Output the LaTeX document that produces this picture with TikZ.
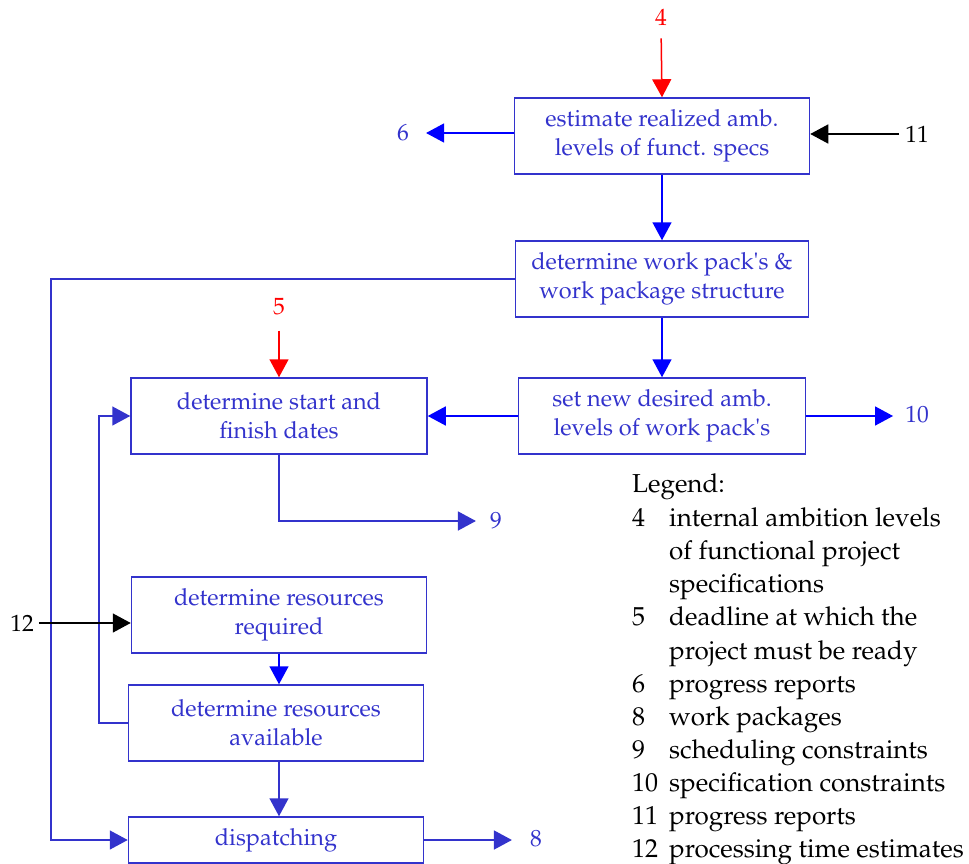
\documentclass[tikz,border=0pt]{standalone}
\usepackage[T1]{fontenc}
\usepackage{mathpazo}
\usetikzlibrary{arrows.meta}
\definecolor{dblue}{RGB}{51,51,204}
\definecolor{pblue}{RGB}{0,0,255}
\definecolor{pred}{RGB}{255,0,0}
\newcommand{\boxfont}{\fontsize{23.5}{29}\selectfont}
\newcommand{\legfont}{\fontsize{26}{33}\selectfont}
\begin{document}
\begin{tikzpicture}[x=1pt,y=-1pt,
  box/.style={draw=dblue,text=dblue,line width=1.5pt,align=center,inner sep=0pt,font=\boxfont},
  lbl/.style={inner sep=0pt,font=\boxfont},
  leg/.style={inner sep=0pt,anchor=base west,font=\legfont},
  conn/.style={line width=1.5pt,-{Triangle[length=18pt,width=19pt]}},
  flowb/.style={conn,pblue},
  flowd/.style={conn,dblue},
  flowr/.style={conn,pred},
  flowk/.style={conn,black}]
\useasboundingbox (0,0) rectangle (969,864);

% process boxes
\node[box,minimum width=295pt,minimum height=76pt] (A) at (662,136) {estimate realized amb.\\levels of funct. specs};
\node[box,minimum width=293pt,minimum height=76pt] (B) at (662,279) {determine work pack\textquotesingle s \&\\work package structure};
\node[box,minimum width=287pt,minimum height=76pt] (C) at (662,416) {set new desired amb.\\levels of work pack\textquotesingle s};
\node[box,minimum width=296pt,minimum height=76pt] (D) at (279,416) {determine start and\\finish dates};
\node[box,minimum width=295pt,minimum height=76pt] (E) at (279,615) {determine resources\\required};
\node[box,minimum width=295pt,minimum height=76pt] (F) at (276,723) {determine resources\\available};
\node[box,minimum width=295pt,minimum height=46pt] (G) at (276,840) {dispatching};

% external inputs and outputs
\node[lbl,text=pred] (n4) at (661,17) {4};
\node[lbl,text=pred] (n5) at (279,307) {5};
\node[lbl] (n11) at (917,134) {11};
\node[lbl] (n12) at (22,623) {12};
\node[lbl,text=dblue] (n6) at (403,133) {6};
\node[lbl,text=dblue] (n10) at (917,415) {10};
\node[lbl,text=dblue] (n9) at (496,521) {9};
\node[lbl,text=dblue] (n8) at (536,839) {8};

\coordinate (fbx) at (51,0);
\coordinate (avx) at (99,0);

\draw[flowr,shorten <=13pt] (n4.south) -- (A.north);
\draw[flowk,shorten <=6pt] (n11.west) -- (A.east |- n11.west);
\draw[flowb,shorten >=17pt] (A.west |- n6.east) -- (n6.east);
\draw[flowb] (A.south) -- (B.north);
\draw[flowb] (B.south) -- (C.north);
\draw[flowb] (C.west) -- (D.east);
\draw[flowb,shorten >=12pt] (C.east) -- (C.east -| n10.west);
\draw[flowr,shorten <=15pt] (n5.south) -- (D.north);
\draw[flowd,shorten >=14pt] (D.south) |- (n9.west);
\draw[flowd] (F.west) -- (F.west -| avx) |- (D.west);
\draw[flowd] (B.west) -- (B.west -| fbx) |- (G.west);
\draw[flowk,shorten <=5pt] (n12.east) -- (E.west |- n12.east);
\draw[flowb] (E.south) -- (E.south |- F.north);
\draw[flowd] (F.south -| E.south) -- (E.south |- G.north);
\draw[flowd,shorten >=18pt] (G.east) -- (G.east -| n8.west);

% legend
\node[leg] (lg) at (632,492) {Legend:};
\node[leg] (k4) at (632,526) {4};
\node[leg] (t4) at (669,526) {internal ambition levels};
\node[leg] (t4b) at (669,559) {of functional project};
\node[leg] (t4c) at (669,592) {specifications};
\node[leg] (k5) at (632,625) {5};
\node[leg] (t5) at (669,625) {deadline at which the};
\node[leg] (t5b) at (669,659) {project must be ready};
\node[leg] (k6) at (632,692) {6};
\node[leg] (t6) at (669,692) {progress reports};
\node[leg] (k8) at (632,725) {8};
\node[leg] (t8) at (669,725) {work packages};
\node[leg] (k9) at (632,758) {9};
\node[leg] (t9) at (669,758) {scheduling constraints};
\node[leg] (k10) at (632,791) {10};
\node[leg] (t10) at (669,791) {specification constraints};
\node[leg] (k11) at (632,824) {11};
\node[leg] (t11) at (669,824) {progress reports};
\node[leg] (k12) at (632,857) {12};
\node[leg] (t12) at (669,857) {processing time estimates};
\end{tikzpicture}
\end{document}
